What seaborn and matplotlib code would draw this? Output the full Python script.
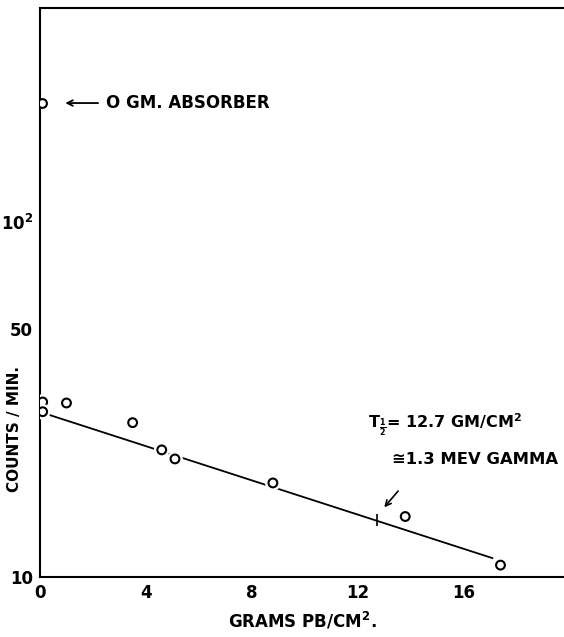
import matplotlib
matplotlib.use("Agg")
import matplotlib.pyplot as plt
import matplotlib.patheffects as pe
import seaborn as sns
import pandas as pd

# absorber thickness (g Pb / cm^2) and counting rate (counts / min)
thickness = [0.1, 0.1, 1.0, 3.5, 4.6, 5.1, 8.8, 13.8, 17.4]
counts = [31.1, 29.2, 30.9, 27.2, 22.8, 21.5, 18.4, 14.8, 10.8]

# unabsorbed reading
zero_x = [0.08]
zero_y = [216]

# fitted absorption line end points
fit_x = [0.1, 17.1]
fit_y = [29.0, 11.3]
half_x, half_y = 12.75, 14.5

xticks = [0, 4, 8, 12, 16]
xticklabels = ["0", "4", "8", "12", "16"]
yticks = [10, 50, 100]
yticklabels = ["10", "50", r"$\mathbf{10^2}$"]

sns.set_style("white")
plt.rcParams["font.family"] = ["DejaVu Sans"]
plt.rcParams["font.weight"] = "bold"
plt.rcParams["mathtext.default"] = "bf"
plt.rcParams["text.color"] = "black"
plt.rcParams["axes.labelcolor"] = "black"

fig = plt.figure(figsize=(5.64, 6.37), dpi=100)
ax = fig.add_axes([40 / 564, 60 / 637, 524 / 564, 569 / 637])

df = pd.DataFrame({"x": thickness, "y": counts})
fit = pd.DataFrame({"x": fit_x, "y": fit_y})

sns.lineplot(data=fit, x="x", y="y", ax=ax, color="black", lw=1.3)
pts = sns.scatterplot(data=df, x="x", y="y", ax=ax, marker="o", s=40,
                      facecolor="white", edgecolor="black", linewidth=1.5,
                      zorder=3)
pts.collections[-1].set_path_effects([pe.withStroke(linewidth=5, foreground="white")])
sns.scatterplot(x=zero_x, y=zero_y, ax=ax, marker="o", s=40,
                facecolor="white", edgecolor="black", linewidth=1.5, zorder=3)
# small tick across the line at the half thickness
ax.plot([half_x], [half_y], marker="|", color="black", ms=9, mew=1.2)

ax.set_yscale("log")
ax.set_xlim(0, 19.8)
ax.set_ylim(10, 400)
ax.set_xticks(xticks)
ax.set_xticklabels(xticklabels)
ax.set_yticks(yticks)
ax.set_yticklabels(yticklabels)
ax.minorticks_off()
ax.tick_params(axis="both", direction="inout", length=8, width=1.2,
               labelsize=12, colors="black", pad=1)

for s in ["left", "bottom", "top"]:
    ax.spines[s].set_color("black")
    ax.spines[s].set_linewidth(1.5)
ax.spines["right"].set_visible(False)

ax.set_xlabel(r"GRAMS PB/CM$^{\mathbf{2}}$.", fontsize=12, fontweight="bold", labelpad=6)
ax.set_ylabel("COUNTS / MIN.", fontsize=11, fontweight="bold")
ax.yaxis.set_label_coords(-0.035, 0.26)

ax.annotate("", xy=(0.85, 216), xytext=(2.3, 216),
            arrowprops=dict(arrowstyle="->", color="black", lw=1.3))
ax.text(2.5, 216, "O GM. ABSORBER", fontsize=12, fontweight="bold", va="center")

ax.annotate("", xy=(12.94, 15.5), xytext=(13.6, 17.7),
            arrowprops=dict(arrowstyle="->", color="black", lw=1.2))
ax.text(12.4, 26.8, r"T$_{\frac{1}{2}}$= 12.7 GM/CM$^{2}$", fontsize=11.5,
        fontweight="bold", va="center")
ax.text(13.3, 21.4, "≅1.3 MEV GAMMA", fontsize=11.8, fontweight="bold", va="center")

fig.savefig("out.png", dpi=100)
